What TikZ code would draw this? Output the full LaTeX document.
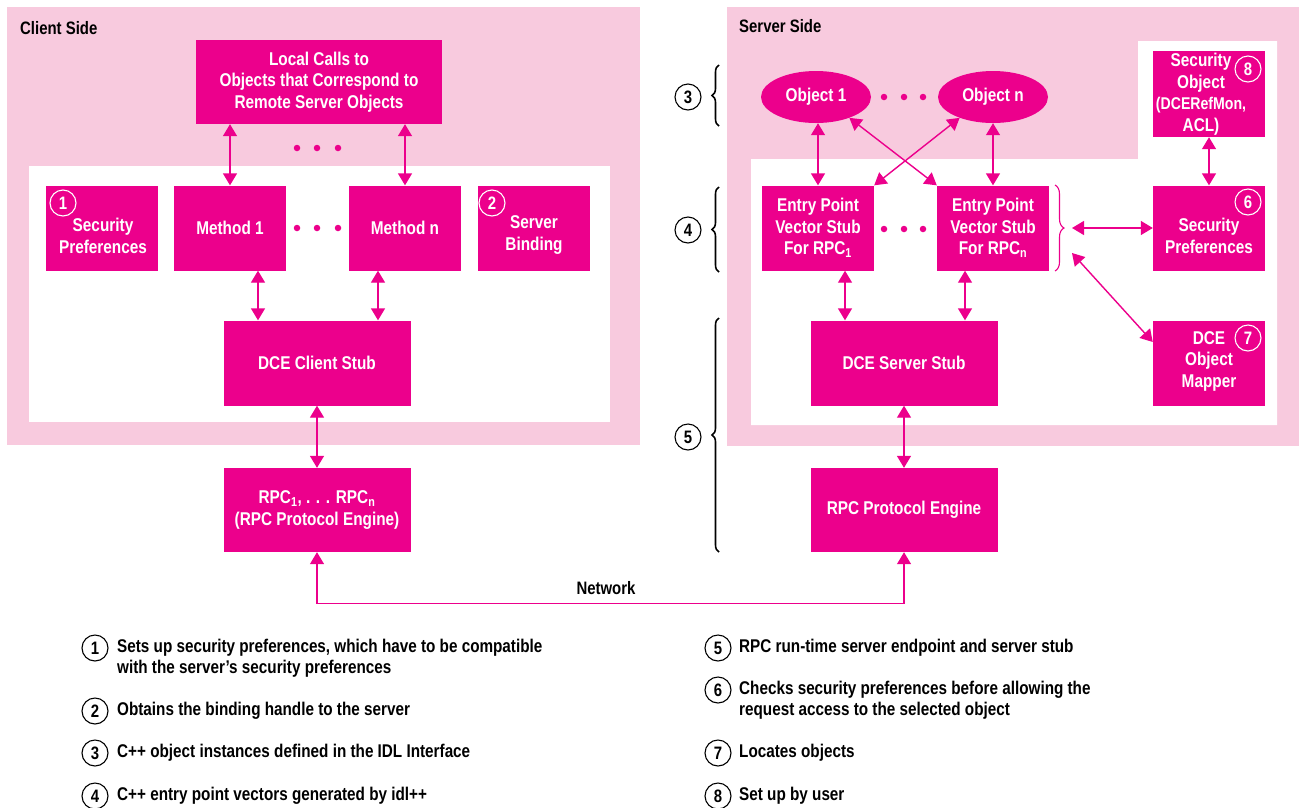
\documentclass[tikz,border=0pt]{standalone}
\usepackage{fontspec}
\setmainfont{Liberation Sans}[FakeStretch=0.83]
\usetikzlibrary{arrows.meta,shapes.geometric,decorations.pathreplacing,calc}
\definecolor{mag}{HTML}{EC008C}
\definecolor{pinkbg}{HTML}{F8CADE}
\newcommand\boxfont{\fontsize{18.5}{21.5}\selectfont\bfseries}
\newcommand\legfont{\fontsize{18.4}{20.5}\selectfont\bfseries}
\newcommand\numfont{\fontsize{18}{20}\selectfont\bfseries}
\begin{document}
\begin{tikzpicture}[x=1pt,y=-1pt,
  box/.style={fill=mag, text=white, inner sep=0pt, minimum width=112pt, minimum height=85pt, align=center, font=\boxfont},
  widebox/.style={box, minimum width=187pt},
  obj/.style={ellipse, fill=mag, text=white, inner sep=0pt, minimum width=110pt, minimum height=52pt, font=\boxfont},
  boxtext/.style={text=white, inner sep=0pt, align=center, font=\boxfont},
  wnum/.style={circle, draw=white, line width=1.1pt, text=white, inner sep=0pt, minimum size=26pt, font=\numfont},
  bnum/.style={circle, draw=black, line width=1.1pt, text=black, inner sep=0pt, minimum size=26pt, font=\numfont},
  legtext/.style={anchor=west, inner sep=0pt, align=left, font=\legfont},
  sidelabel/.style={anchor=west, inner sep=0pt, font=\fontsize{18}{20}\selectfont\bfseries},
  dbl/.style={draw=mag, line width=1.4pt, {Triangle[length=12pt,width=14pt]}-{Triangle[length=12pt,width=14pt]}},
  dot/.style={circle, fill=mag, inner sep=0pt, minimum size=6.5pt},
  lbrace/.style={draw=black, line width=1.6pt, decorate, decoration={brace, amplitude=7pt}},
  rbrace/.style={draw=mag, line width=1.1pt, decorate, decoration={brace, amplitude=9pt}}
]
\useasboundingbox (0,0) rectangle (1299,807);

% ---------- background panels ----------
\fill[pinkbg] (7,7) rectangle (640,445);
\fill[white] (29,166) rectangle (610,422);
\fill[pinkbg] (727,7) rectangle (1299,446);
\fill[white] (751,159) -- (1138,159) -- (1138,41) -- (1277,41) -- (1277,425) -- (751,425) -- cycle;

\node[sidelabel] (clientlbl) at (20,28) {Client Side};
\node[sidelabel] (serverlbl) at (739,26) {Server Side};

% ---------- client side ----------
\node[box, minimum width=246pt, minimum height=84pt] (local) at (319,82)
  {Local Calls to\\Objects that Correspond to\\Remote Server Objects};
\node[dot] (cd1) at (297,148) {};
\node[dot] (cd2) at (317,148) {};
\node[dot] (cd3) at (338,148) {};

\node[box] (sec1) at (102,228) {};
\node[boxtext] (sec1t) at (103,236) {Security\\Preferences};
\node[wnum] (n1) at (63,203) {1};

\node[box] (m1) at (230,228) {Method 1};
\node[dot] (md1) at (297,228) {};
\node[dot] (md2) at (317,228) {};
\node[dot] (md3) at (338,228) {};
\node[box] (mn) at (405,228) {Method n};

\node[box] (bind) at (534,228) {};
\node[boxtext] (bindt) at (534,235) {Server\\Binding};
\node[wnum] (n2) at (492,203) {2};

\node[widebox] (cstub) at (317,363) {DCE Client Stub};
\node[widebox, minimum height=84pt] (crpc) at (317,510)
  {RPC\textsubscript{1}, . . . RPC\textsubscript{n}\\(RPC Protocol Engine)};

\draw[dbl] (m1.north |- local.south) -- (m1.north);
\draw[dbl] (mn.north |- local.south) -- (mn.north);
\draw[dbl] ([xshift=28pt]m1.south) -- ([xshift=28pt]m1.south |- cstub.north);
\draw[dbl] ([xshift=-27pt]mn.south) -- ([xshift=-27pt]mn.south |- cstub.north);
\draw[dbl] (cstub.south) -- (crpc.north);

% ---------- server side ----------
\node[obj] (obj1) at (816,97) {Object 1};
\node[dot] (od1) at (884,97) {};
\node[dot] (od2) at (904,97) {};
\node[dot] (od3) at (923,97) {};
\node[obj] (objn) at (993,97) {Object n};

\node[box] (ep1) at (818,228) {Entry Point\\Vector Stub\\For RPC\textsubscript{1}};
\node[dot] (ed1) at (884,229) {};
\node[dot] (ed2) at (904,229) {};
\node[dot] (ed3) at (923,229) {};
\node[box] (epn) at (993,228) {Entry Point\\Vector Stub\\For RPC\textsubscript{n}};

\node[box, minimum height=86pt] (secobj) at (1209,94) {};
\node[boxtext] (secobjt) at (1201,94)
  {Security\\Object\\{\fontsize{17}{21.5}\selectfont(DCERefMon,}\\ACL)};
\node[wnum] (n8) at (1248,69) {8};

\node[box] (sec6) at (1209,228) {};
\node[boxtext] (sec6t) at (1209,236) {Security\\Preferences};
\node[wnum] (n6) at (1248,202) {6};

\node[box] (mapper) at (1209,363) {};
\node[boxtext] (mappert) at (1209,361) {DCE\\Object\\Mapper};
\node[wnum] (n7) at (1248,338) {7};

\node[widebox] (sstub) at (904,363) {DCE Server Stub};
\node[widebox, minimum height=84pt] (srpc) at (904,510) {RPC Protocol Engine};

% brace grouping the entry point vectors
\draw[rbrace] (1055,185) -- (1055,271);
\coordinate (eptip) at (1072,228);
\coordinate (eplow) at (1072,253);

\draw[dbl] (ep1.north |- obj1.south) -- (ep1.north);
\draw[dbl] (epn.north |- objn.south) -- (epn.north);
\draw[dbl] (obj1.-32) -- (epn.north west);
\draw[dbl] (objn.-148) -- (ep1.north east);
\draw[dbl] ([xshift=27pt]ep1.south) -- ([xshift=27pt]ep1.south |- sstub.north);
\draw[dbl] ([xshift=-28pt]epn.south) -- ([xshift=-28pt]epn.south |- sstub.north);
\draw[dbl] (secobj.south) -- (sec6.north);
\draw[dbl] (eptip) -- (sec6.west);
\draw[dbl] (eplow) -- ([yshift=21pt]mapper.west);
\draw[dbl] (sstub.south) -- (srpc.north);

% ---------- network ----------
\draw[dbl] (crpc.south) -- ++(0,51) -| (srpc.south);
\node[inner sep=0pt, font=\fontsize{18}{20}\selectfont\bfseries] (net) at (606,588) {Network};

% ---------- grouping braces ----------
\draw[lbrace] (719,126) -- (719,65);
\node[bnum] (b3) at (688,97) {3};
\draw[lbrace] (719,272) -- (719,187);
\node[bnum] (b4) at (688,230) {4};
\draw[lbrace] (719,552) -- (719,318);
\node[bnum] (b5) at (688,437) {5};

% ---------- legend ----------
\node[bnum] (l1) at (95,648) {1};
\node[legtext] (l1t) at (117,658) {Sets up security preferences, which have to be compatible\\with the server’s security preferences};
\node[bnum] (l2) at (95,711) {2};
\node[legtext] (l2t) at (117,711) {Obtains the binding handle to the server};
\node[bnum] (l3) at (95,753) {3};
\node[legtext] (l3t) at (117,753) {C++ object instances defined in the IDL Interface};
\node[bnum] (l4) at (95,796) {4};
\node[legtext] (l4t) at (117,796) {C++ entry point vectors generated by idl++};

\node[bnum] (l5) at (718,648) {5};
\node[legtext] (l5t) at (739,648) {RPC run-time server endpoint and server stub};
\node[bnum] (l6) at (718,690) {6};
\node[legtext] (l6t) at (739,700) {Checks security preferences before allowing the\\request access to the selected object};
\node[bnum] (l7) at (718,753) {7};
\node[legtext] (l7t) at (739,753) {Locates objects};
\node[bnum] (l8) at (718,796) {8};
\node[legtext] (l8t) at (739,796) {Set up by user};
\end{tikzpicture}
\end{document}
